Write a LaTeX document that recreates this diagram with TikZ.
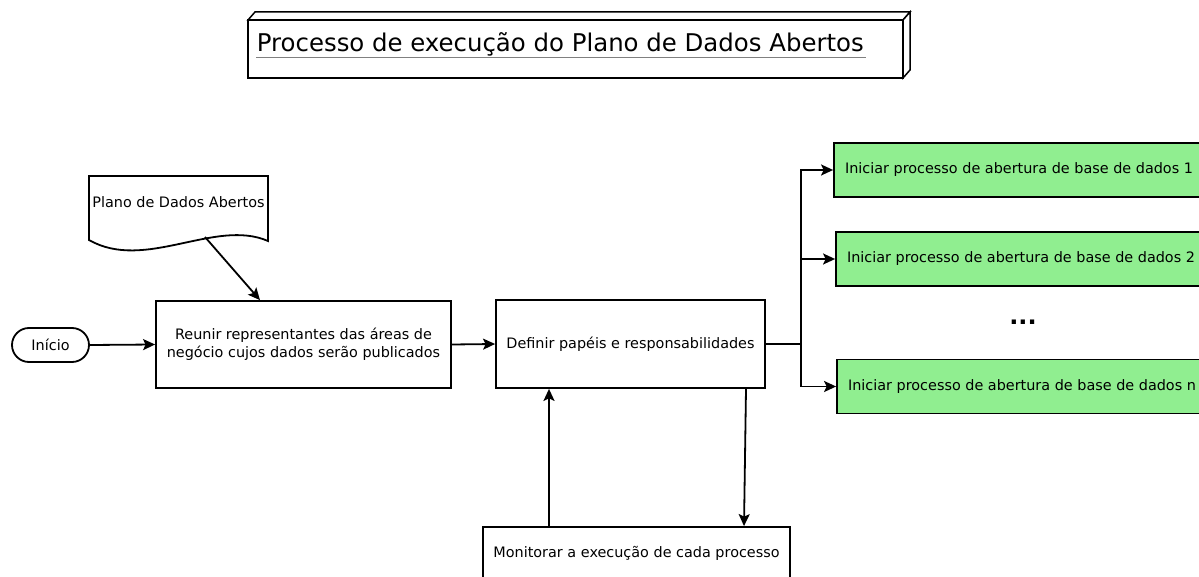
\documentclass[tikz,border=0pt]{standalone}
\usepackage{fontspec}
\setmainfont{DejaVu Sans}
\usetikzlibrary{arrows.meta,shapes.misc}
\begin{document}
\begin{tikzpicture}[x=1pt,y=-1pt,
  line width=1.8pt,
  every node/.style={inner sep=0pt,font=\fontsize{14.4}{18}\selectfont},
  procbox/.style={draw,rectangle,align=center},
  greenbox/.style={draw,rectangle,fill=lightgreen,minimum width=370,minimum height=54},
  term/.style={draw,rounded rectangle,minimum width=77,minimum height=34},
  arr/.style={-{Stealth[length=12pt,width=11pt,inset=2.5pt]}}
]
\definecolor{lightgreen}{HTML}{90EE90}
\useasboundingbox (0,0) rectangle (1199,577);
\clip (0,0) rectangle (1199,577);

% title 3D box
\draw[line width=1.5pt,fill=white] (248,20) -- (255,12) -- (910,12) -- (903,20) -- cycle;
\draw[line width=1.5pt,fill=white] (903,20) -- (910,12) -- (910,70) -- (903,78) -- cycle;
\node[draw,line width=1.5pt,minimum width=655,minimum height=58] (titlebox) at (575.5,49) {};
\node[anchor=base west,font=\fontsize{24.4}{28}\selectfont] (title) at (256,51.7) {Processo de execução do Plano de Dados Abertos};
\draw[gray,line width=1pt] (title.base west) ++(0,5.5) coordinate (ul1) -- ++(610,0) coordinate (ul2);

% document
\node (doc) at (178.5,202) {Plano de Dados Abertos};
\draw (89,176) -- (268,176) -- (268,241) .. controls (215,218) and (145,272) .. (89,240) -- cycle;
\coordinate (docb) at (205,237);

% start
\node[term] (inicio) at (50.5,345) {Início};

% process boxes
\node[procbox,minimum width=295,minimum height=87] (reunir) at (303.5,344.5) {Reunir representantes das áreas de\\negócio cujos dados serão publicados};
\node[procbox,minimum width=269,minimum height=88] (definir) at (630.5,344) {Definir papéis e responsabilidades};
\node[procbox,minimum width=307,minimum height=70] (monitor) at (636.5,562) {};
\node (montext) at (636.5,553) {Monitorar a execução de cada processo};

% green boxes
\node[greenbox] (g1) at (1019,170) {Iniciar processo de abertura de base de dados 1};
\node[greenbox] (g2) at (1021,259) {Iniciar processo de abertura de base de dados 2};
\node[greenbox] (gn) at (1022,386.5) {Iniciar processo de abertura de base de dados n};
\node[font=\bfseries\fontsize{24}{26}\selectfont] (dots) at (1023,322) {...};

% connectors
\draw[arr] (docb) -- (reunir.north west -| 260,0);
\draw[arr] (inicio.east) -- (reunir.west);
\draw[arr] (reunir.east) -- (definir.west);
\coordinate (br) at (801,344);
\draw (definir.east) -- (br);
\draw[arr] (br) |- (g1.west);
\draw[arr] (br) |- (g2.west);
\draw[arr] (br) |- (gn.west);
\draw[arr] (monitor.north -| 549,0) -- (definir.south -| 549,0);
\draw[arr] (definir.south -| 746,0) -- (monitor.north -| 744,0);
\end{tikzpicture}
\end{document}
